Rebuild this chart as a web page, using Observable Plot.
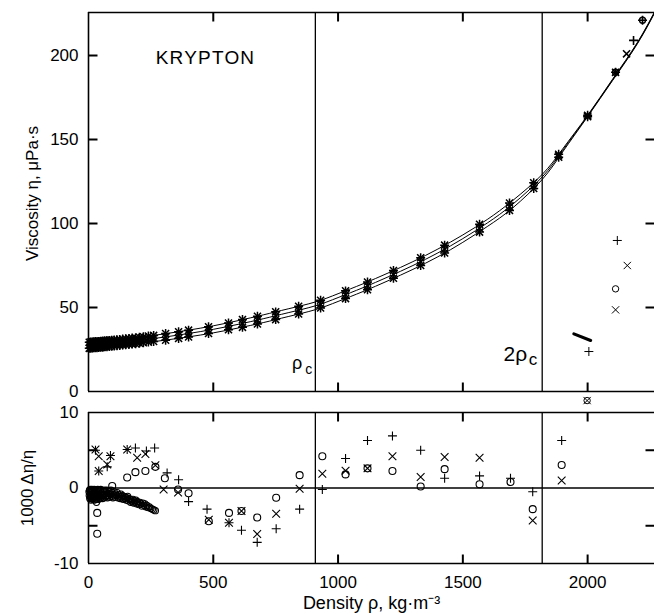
<!DOCTYPE html>
<html><head><meta charset="utf-8">
<script src="https://cdn.jsdelivr.net/npm/d3@7"></script>
<script src="https://cdn.jsdelivr.net/npm/@observablehq/plot@0.6"></script>
<style>
body{margin:0;background:#fff;}
#chart{width:654px;overflow:hidden;}
#chart svg{display:block;}
</style></head><body><div id="chart"></div>
<script>
// ---------- data ----------
const criticalDensity = [909, 1818];          // rho_c, 2 rho_c
const xTicks = [0, 500, 1000, 1500, 2000];
const topYTicks = [0, 50, 100, 150, 200];
const botYLabelTicks = [-10, 0, 10];
const botYMinorTicks = [-5, 5];

// correlation curves (three isotherms)
const lineRho = [0,100,200,300,400,500,600,700,800,909,1000,1100,1200,1300,1400,1500,1600,1700,1818,1900,2000,2100,2200,2280];
const lineLow = [25.7,27.0,28.6,30.4,32.5,34.9,37.8,41.0,44.6,48.7,53.6,59.5,65.9,72.7,80.2,88.8,98.4,109.3,126.2,142.6,163.6,185.1,207.1,228.6];
const lineMid = [27.5,28.8,30.4,32.3,34.5,37.0,40.0,43.3,46.9,51.0,55.9,61.8,68.2,75.0,82.5,91.0,100.5,111.5,127.7,143.5,164.0,185.5,207.5,229.0];
const lineUp  = [29.3,30.6,32.2,34.2,36.5,39.1,42.2,45.6,49.2,53.3,58.2,64.1,70.5,77.3,84.8,93.2,102.6,113.7,129.2,144.4,164.4,185.9,207.9,229.4];

// measured viscosities on the three isotherms
const topRho = [3,9,15,21,27,34,41,49,57,65,74,83,93,103,114,125,137,149,162,175,189,204,220,240,261,309,361,401,481,561,617,677,750,842,930,1030,1118,1222,1331,1427,1567,1687,1784,1884,2000];
const topLow = [25.7,25.8,25.9,26.0,26.1,26.1,26.2,26.3,26.4,26.6,26.7,26.8,26.9,27.1,27.2,27.4,27.6,27.8,28.0,28.2,28.4,28.7,29.0,29.4,29.8,30.5,31.6,32.5,34.5,36.8,38.2,40.2,42.8,46.1,49.7,55.3,60.6,67.4,75.0,82.5,94.9,107.8,120.8,139.4,163.6];
const topMid = [27.5,27.6,27.7,27.8,27.9,27.9,28.0,28.1,28.2,28.4,28.5,28.6,28.7,28.9,29.0,29.2,29.4,29.6,29.8,30.0,30.2,30.5,30.8,31.2,31.6,32.5,33.6,34.5,36.5,38.8,40.5,42.5,45.1,48.4,52.0,57.6,62.9,69.7,77.3,84.8,97.2,110.0,122.5,140.3,164.0];
const topUp  = [29.3,29.4,29.5,29.6,29.7,29.7,29.8,29.9,30.0,30.2,30.3,30.4,30.5,30.7,30.8,31.0,31.2,31.4,31.6,31.8,32.0,32.3,32.6,33.0,33.4,34.5,35.6,36.5,38.5,40.8,42.8,44.8,47.4,50.7,54.3,59.9,65.2,72.0,79.6,87.1,99.5,112.2,124.2,141.2,164.4];

// high-density points above the curve
const hiTimesRho = [2112, 2156];
const hiTimesEta = [190, 201];
const hiPlusRho  = [2112, 2184, 2220];
const hiPlusEta  = [190, 209, 221];
const hiCircRho  = [2112, 2220];
const hiCircEta  = [190, 221];

// symbol key fragments at the right side
const keyPlusRho  = [2119, 2005];
const keyPlusEta  = [89.9, 23.8];
const keyTimesRho = [2159, 2112, 1998];
const keyTimesEta = [75, 48.6, -5.4];
const keyCircRho  = [2112, 1998];
const keyCircEta  = [61.1, -5.4];
const keyBarRho   = [1945, 2012];
const keyBarEta   = [34.3, 30.4];

// deviations 1000*(eta_exp - eta_cor)/eta_cor
const bTimesRho = [28,41,41,88,75,155,195,228,268,301,359,482,563,613,676,752,846,937,1030,1118,1218,1331,1427,1567,1780,1896];
const bTimesDev = [5.1,4.2,2.25,4.2,3.1,5.1,4.0,4.5,3.0,-0.2,-0.6,-4.2,-4.6,-3.05,-6.1,-3.4,-0.1,1.9,2.3,2.6,4.2,1.46,4.1,4.0,-4.3,1.0];
const bPlusRho  = [28,41,75,88,155,188,232,265,315,361,401,475,563,613,676,752,846,937,1030,1118,1218,1331,1427,1567,1691,1780,1896];
const bPlusDev  = [5.0,2.25,2.8,4.3,5.1,5.3,4.9,5.3,2.0,1.1,-1.8,-2.8,-4.6,-5.6,-7.2,-5.4,-2.8,-0.2,3.9,6.3,6.9,5.0,1.3,1.6,1.3,-0.5,6.3];
const bCircRho  = [35,35,95,155,188,228,268,306,359,401,482,563,613,676,752,846,937,1030,1118,1218,1331,1427,1567,1691,1780,1896];
const bCircDev  = [-3.3,-6.05,0.26,1.4,2.1,2.25,2.8,1.3,-0.2,-0.7,-4.4,-3.3,-3.05,-3.9,-1.3,1.7,4.2,1.8,2.6,2.25,0.2,2.5,0.5,0.8,-2.8,3.05];
// dense low-density (gas) data
const gasRho = [2,3,4,5,6,7,8,9,10,11,12,13,14,15,16,17,18,19,20,21,22,23,24,25,26,27,28,30,31,32,34,36,37,39,40,42,43,45,46,48,49,51,52,54,56,58,60,62,64,66,68,70,72,74,76,78,80,83,85,88,90,93,95,98,100,103,106,109,112,115,118,121,124,127,130,133,136,139,142,145,148,151,154,157,160,163,166,169,172,175,178,181,184,187,190,193,196,199,202,206,210,214,218,222,226,230,234,239,244,250,256,262,268,32];
const gasDev = [-0.5,-1.0,-0.3,-1.4,-0.8,-0.2,-1.2,-0.6,-1.6,-0.4,-1.0,-1.3,-0.2,-0.8,-1.5,-0.5,-1.1,-0.3,-1.4,-0.7,-1.0,-0.2,-1.6,-0.6,-1.2,-0.4,-0.9,-1.5,-0.3,-1.1,-0.6,-1.3,-0.2,-0.9,-1.5,-0.5,-1.1,-0.3,-1.4,-0.8,-0.2,-1.2,-0.6,-1.0,-1.4,-0.4,-0.9,-1.3,-0.3,-0.8,-1.2,-0.5,-1.0,-0.3,-1.3,-0.7,-1.0,-0.4,-1.2,-0.8,-0.3,-1.1,-0.6,-1.3,-0.9,-0.5,-1.2,-0.8,-1.0,-0.6,-1.3,-0.9,-1.1,-1.4,-0.8,-1.2,-1.0,-1.5,-1.1,-1.4,-1.2,-1.6,-1.3,-1.1,-1.7,-1.4,-1.5,-1.9,-1.6,-1.8,-1.5,-2.0,-1.7,-1.9,-1.6,-2.1,-1.8,-2.0,-2.2,-1.9,-2.1,-2.4,-2.0,-2.3,-2.1,-2.5,-2.3,-2.6,-2.5,-2.7,-2.8,-2.9,-3.0,-1.9];

// ---------- drawing ----------
const xDomain = [0, 2268];
const font = "'Liberation Sans', Arial, Helvetica, sans-serif";
const W = 654, ML = 88, MR = 0;
const base = {width: W, marginLeft: ML, marginRight: MR,
  style: {fontFamily: font, fontSize: "17px", background: "white", color: "black", overflow: "visible"}};
const sym = (rho, val, symbol, r, extra = {}) =>
  Plot.dot(rho, {x: rho, y: val, symbol, r, stroke: "black", fill: "none", strokeWidth: 1.2, ...extra});

// inward tick marks drawn as custom line symbols
const TL = 9;
const tickSym = (dx, dy) => ({draw(ctx) { ctx.moveTo(0, 0); ctx.lineTo(dx, dy); }});
const tickRight = tickSym(TL, 0), tickLeft = tickSym(-TL, 0), tickDown = tickSym(0, TL), tickUp = tickSym(0, -TL);
const tickStyle = {stroke: "black", fill: "none", strokeWidth: 2};
const innerTicks = (xt, yLeft, yRight) => [
  Plot.dot(yLeft, {y: d => d, frameAnchor: "left", symbol: tickRight, ...tickStyle}),
  Plot.dot(yRight, {y: d => d, frameAnchor: "right", symbol: tickLeft, ...tickStyle}),
  Plot.dot(xt, {x: d => d, frameAnchor: "top", symbol: tickDown, ...tickStyle}),
  Plot.dot(xt, {x: d => d, frameAnchor: "bottom", symbol: tickUp, ...tickStyle})
];

const topH = 400, topMT = 12, topMB = 9;
const topChart = Plot.plot({
  ...base, height: topH, marginTop: topMT, marginBottom: topMB,
  x: {domain: xDomain, axis: null},
  y: {domain: [0, 225.6], axis: null},
  marks: [
    Plot.ruleY([0, 225.6], {strokeWidth: 1.6}),
    Plot.ruleX([0], {strokeWidth: 1.6}),
    Plot.ruleX(criticalDensity, {strokeWidth: 1.3}),
    ...innerTicks(xTicks.slice(1), topYTicks.slice(1), topYTicks.slice(1)),
    Plot.text(topYTicks, {y: d => d, frameAnchor: "left", dx: -10, text: d => String(d), textAnchor: "end", fontSize: 17}),
    Plot.text(["Viscosity η, μPa·s"], {frameAnchor: "top-left", dx: -56, dy: 181, rotate: -90, text: d => d, textAnchor: "middle", lineAnchor: "middle", fontSize: 17}),
    Plot.line(lineRho, {x: lineRho, y: lineLow, curve: "natural", strokeWidth: 1}),
    Plot.line(lineRho, {x: lineRho, y: lineMid, curve: "natural", strokeWidth: 1}),
    Plot.line(lineRho, {x: lineRho, y: lineUp, curve: "natural", strokeWidth: 1}),
    sym(topRho, topLow, "plus", 3, {strokeWidth: 1.5}),
    sym(topRho, topLow, "times", 3.3, {strokeWidth: 1.5}),
    sym(topRho, topMid, "times", 3.3, {strokeWidth: 1.5}),
    sym(topRho, topUp, "times", 3.3, {strokeWidth: 1.5}),
    sym(topRho, topUp, "plus", 3, {strokeWidth: 1.5}),
    sym(hiTimesRho, hiTimesEta, "times", 3.3, {strokeWidth: 1.6}),
    sym(hiPlusRho, hiPlusEta, "plus", 3, {strokeWidth: 1.6}),
    sym(hiCircRho, hiCircEta, "circle", 3, {strokeWidth: 1.4}),
    sym(keyPlusRho, keyPlusEta, "plus", 3, {strokeWidth: 1}),
    sym(keyTimesRho, keyTimesEta, "times", 3.4, {strokeWidth: 1}),
    sym(keyCircRho, keyCircEta, "circle", 3.2, {strokeWidth: 1}),
    Plot.line(keyBarRho, {x: keyBarRho, y: keyBarEta, strokeWidth: 3.2}),
    Plot.text(["KRYPTON"], {frameAnchor: "top-left", dx: 117, dy: 45, text: d => d, fontSize: 19, lineAnchor: "middle", textAnchor: "middle"}),
    Plot.text(["ρ"], {x: [criticalDensity[0]], y: [0], dx: -13, dy: -23, text: d => d, fontSize: 18, textAnchor: "end", lineAnchor: "bottom"}),
    Plot.text(["c"], {x: [criticalDensity[0]], y: [0], dx: -3, dy: -18, text: d => d, fontSize: 14, textAnchor: "end", lineAnchor: "bottom"}),
    Plot.text(["2ρ"], {x: [criticalDensity[1]], y: [0], dx: -15, dy: -31, text: d => d, fontSize: 21, textAnchor: "end", lineAnchor: "bottom"}),
    Plot.text(["c"], {x: [criticalDensity[1]], y: [0], dx: -5, dy: -27, text: d => d, fontSize: 17, textAnchor: "end", lineAnchor: "bottom"})
  ]
});

const botH = 214, botMT = 12, botMB = 51;
const botChart = Plot.plot({
  ...base, height: botH, marginTop: botMT, marginBottom: botMB,
  x: {domain: xDomain, axis: null},
  y: {domain: [-10, 10], axis: null},
  marks: [
    Plot.ruleY([-10, 10], {strokeWidth: 1.6}),
    Plot.ruleY([0], {strokeWidth: 1.4}),
    Plot.ruleX([0], {strokeWidth: 1.6}),
    Plot.ruleX(criticalDensity, {strokeWidth: 1.3}),
    ...innerTicks(xTicks.slice(1), botYMinorTicks, botYMinorTicks),
    Plot.text(botYLabelTicks, {y: d => d, frameAnchor: "left", dx: -10, text: d => String(d), textAnchor: "end", fontSize: 17}),
    Plot.text(xTicks, {x: d => d, frameAnchor: "bottom", dy: 19, text: d => String(d), textAnchor: "middle", lineAnchor: "middle", fontSize: 17}),
    Plot.text(["1000 Δη/η"], {frameAnchor: "left", dx: -61, rotate: -90, text: d => d, textAnchor: "middle", lineAnchor: "middle", fontSize: 17}),
    Plot.text(["Density ρ, kg·m⁻³"], {frameAnchor: "bottom", dy: 40, text: d => d, textAnchor: "middle", lineAnchor: "middle", fontSize: 18}),
    sym(gasRho, gasDev, "circle", 3.1, {strokeWidth: 1.1}),
    sym(bCircRho, bCircDev, "circle", 3.5, {strokeWidth: 1.1}),
    sym(bTimesRho, bTimesDev, "times", 3.6, {strokeWidth: 1.1}),
    sym(bPlusRho, bPlusDev, "plus", 3, {strokeWidth: 1.1})
  ]
});

const host = document.getElementById("chart");
host.appendChild(topChart);
host.appendChild(botChart);
d3.selectAll("#chart text").each(function () {
  if (this.textContent === "KRYPTON") this.setAttribute("letter-spacing", "1.2");
});
</script>
</body></html>
